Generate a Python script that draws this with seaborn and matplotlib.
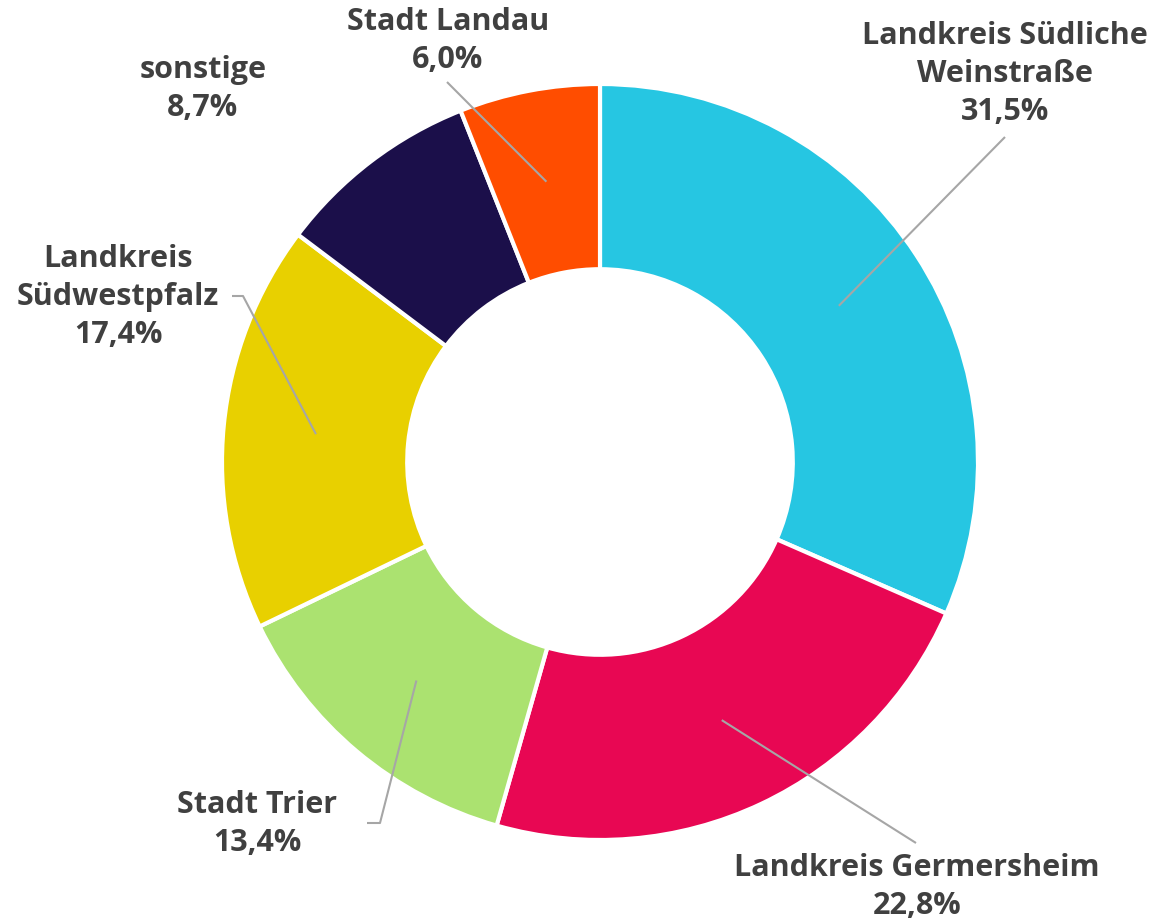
import matplotlib.pyplot as plt
import numpy as np
import seaborn as sns

# data
labels = ['Landkreis Südliche\nWeinstraße', 'Landkreis Germersheim', 'Stadt Trier',
          'Landkreis\nSüdwestpfalz', 'sonstige', 'Stadt Landau']
shares = [31.5, 22.8, 13.4, 17.4, 8.7, 6.0]
colors = ['#26C6E2', '#E80753', '#ABE270', '#E8D000', '#1B0F4A', '#FF4D00']

sns.set_theme(style='white')
plt.rcParams['font.family'] = ['Open Sans', 'DejaVu Sans']

W, H = 1160, 923
fig = plt.figure(figsize=(W / 100, H / 100), dpi=100)
ax = fig.add_axes([0, 0, 1, 1])

cx, cy, r_out = 600, H - 462, 378
ring = 0.49
wedges, _ = ax.pie(shares, colors=colors, startangle=90, counterclock=False,
                   center=(cx, cy), radius=r_out, frame=True,
                   wedgeprops=dict(width=r_out * ring, edgecolor='white', linewidth=3))
ax.set_xlim(0, W)
ax.set_ylim(0, H)
ax.set_aspect('equal')
ax.axis('off')

# label placement (pixel coords from top) and leader elbows
text_pos = [(1005, 74), (917, 887), (257, 824), (118, 297), (203, 89), (448, 41)]
elbows = [[(1005, 137)], [(916, 843)], [(380, 823), (367, 823)],
          [(243, 296), (232, 296)], None, [(447, 82)]]

r_mid = r_out * (1 - ring / 2)
for w, lab, val, tp, el in zip(wedges, labels, shares, text_pos, elbows):
    ang = np.deg2rad((w.theta1 + w.theta2) / 2)
    if el is not None:
        xs = [cx + r_mid * np.cos(ang)] + [p[0] for p in el]
        ys = [cy + r_mid * np.sin(ang)] + [H - p[1] for p in el]
        ax.plot(xs, ys, color='#A6A6A6', lw=1.5, zorder=5, solid_capstyle='butt')
    txt = f'{lab}\n{val:.1f}%'.replace('.', ',')
    ax.text(tp[0], H - tp[1], txt, ha='center', va='center', multialignment='center',
            fontsize=22, fontweight='bold', color='#404040', linespacing=1.36)

fig.savefig('out.png', dpi=100, facecolor='white')
